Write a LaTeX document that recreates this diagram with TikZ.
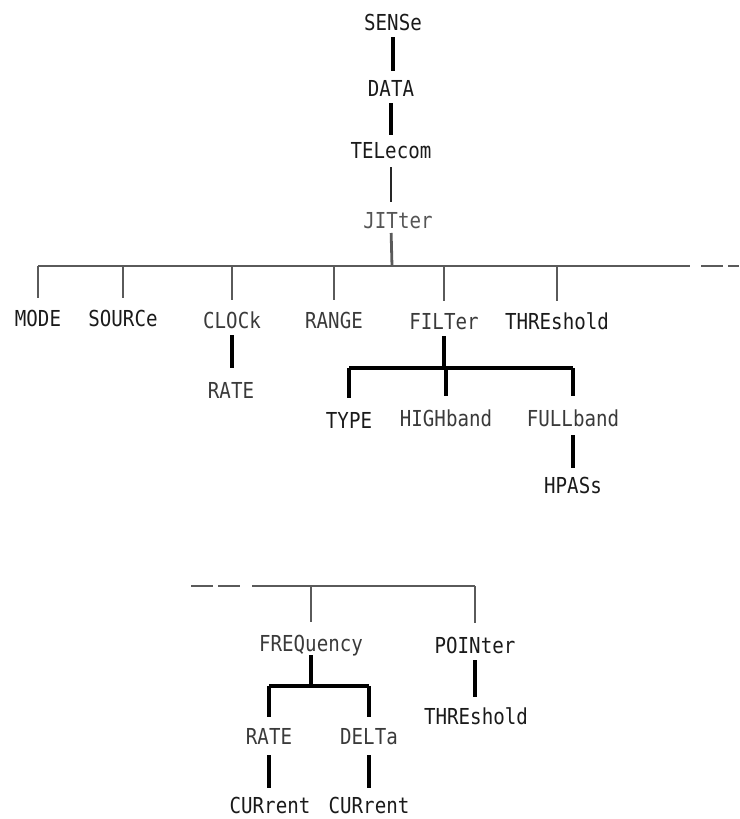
\documentclass[tikz,border=0pt]{standalone}
\usepackage{fontspec}
\newfontfamily\lblfont[FakeStretch=0.87]{DejaVu Sans Mono}
\definecolor{ink}{HTML}{1A1A1A}
\definecolor{inkgray}{HTML}{3A3A3A}
\definecolor{lightink}{HTML}{555555}
\definecolor{busgray}{HTML}{5A5A5A}
\tikzset{
  lbl/.style={font=\lblfont\fontsize{22}{24}\selectfont, text=ink, text height=16pt, text depth=0pt,
              inner xsep=1pt, inner ysep=0pt, outer sep=0pt},
  lblg/.style={lbl, text=inkgray},
  wire/.style={line width=3.2pt, draw=black},
  graywire/.style={line width=2.8pt, draw=busgray},
  fromtop/.style={shorten <=7pt},
  tobottom/.style={shorten >=12pt},
}
\begin{document}
\begin{tikzpicture}[x=1pt,y=-1pt]
\useasboundingbox (0,0) rectangle (739,819);
% top chain
\node[lbl] (sense) at (393,22) {SENSe};
\node[lbl] (data) at (391,88) {DATA};
\node[lbl] (tel) at (391,150) {TELecom};
\node[lblg, text=lightink] (jit) at (398,220) {JITter};
% first level
\node[lbl] (mode) at (38,318) {MODE};
\node[lbl] (source) at (123,318) {SOURCe};
\node[lblg] (clock) at (232,320) {CLOCk};
\node[lblg] (range) at (334,320) {RANGE};
\node[lblg] (filter) at (444,321) {FILTer};
\node[lbl] (thresh) at (557,321) {THREshold};
\node[lblg] (rateA) at (231,390) {RATE};
% filter subtree
\node[lbl] (type) at (349,420) {TYPE};
\node[lblg] (high) at (446,418) {HIGHband};
\node[lblg] (full) at (573,418) {FULLband};
\node[lbl] (hpass) at (573,485) {HPASs};
% lower part
\node[lblg] (freq) at (311,643) {FREQuency};
\node[lbl] (point) at (475,645) {POINter};
\node[lbl] (threshB) at (476,716) {THREshold};
\node[lblg] (rateB) at (269,736) {RATE};
\node[lblg] (delta) at (369,736) {DELTa};
\node[lbl] (curA) at (270,805) {CURrent};
\node[lbl] (curB) at (369,805) {CURrent};

% coordinates
\coordinate (bus) at (392,266);
\coordinate (busR) at (690,266);
\coordinate (dashA) at (701,266);
\coordinate (dashE) at (739,266);
\coordinate (fbar) at (445,368);
\coordinate (busB) at (252,586);
\coordinate (dashB1) at (191,586);
\coordinate (dashB2) at (241,586);
\coordinate (qbar) at (311,686);

% top chain connectors
\draw[wire, fromtop, shorten >=9pt] (sense.south) -- (sense.south |- data.north);
\draw[wire, fromtop, shorten >=7pt] (data.south) -- (data.south |- tel.north);
\draw[wire, line width=2.8pt, draw=black!85, shorten <=9pt, shorten >=10pt] (tel.south) -- (tel.south |- jit.north);
\draw[graywire, shorten <=5pt] (jit.south -| tel.south) -- (bus);
% main bus
\draw[graywire] (mode.north |- bus) -- (busR);
\draw[graywire, dash pattern=on 22pt off 5pt] (dashA) -- (dashE);
\foreach \n in {mode,source,clock,range,filter,thresh}
  \draw[graywire, tobottom] (\n.north |- bus) -- (\n.north);
% clock -> rate
\draw[wire, shorten <=7pt, shorten >=14pt] (clock.south) -- (clock.south |- rateA.north);
% filter subtree
\draw[wire, fromtop] (filter.south) -- (filter.south |- fbar);
\draw[wire] (type.north |- fbar) -- (full.north |- fbar);
\foreach \n in {type,high,full}
  \draw[wire, shorten >=14pt] (\n.north |- fbar) -- (\n.north);
\draw[wire, shorten <=9pt, shorten >=9pt] (full.south) -- (full.south |- hpass.north);
% lower bus
\draw[graywire, dash pattern=on 22pt off 5pt] (dashB1) -- (dashB2);
\draw[graywire] (busB) -- (point.north |- busB);
\draw[graywire, shorten >=13pt] (freq.north |- busB) -- (freq.north);
\draw[graywire, shorten >=14pt] (point.north |- busB) -- (point.north);
\draw[wire, shorten <=7pt, shorten >=11pt] (point.south) -- (point.south |- threshB.north);
% frequency subtree
\draw[wire, shorten <=4pt] (freq.south) -- (freq.south |- qbar);
\draw[wire] (rateB.north |- qbar) -- (delta.north |- qbar);
\foreach \n in {rateB,delta}
  \draw[wire, shorten >=11pt] (\n.north |- qbar) -- (\n.north);
\draw[wire, shorten <=11pt, shorten >=9pt] (rateB.south) -- (rateB.south |- curA.north);
\draw[wire, shorten <=11pt, shorten >=9pt] (delta.south) -- (delta.south |- curB.north);
\end{tikzpicture}
\end{document}
